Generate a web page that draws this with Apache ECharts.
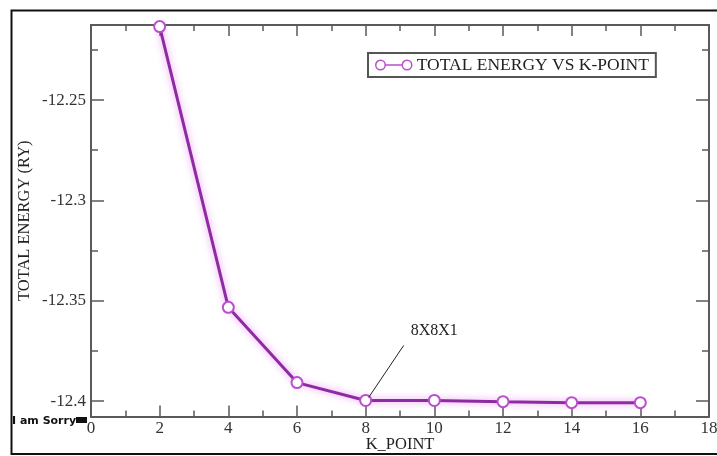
<!DOCTYPE html>
<html>
<head>
<meta charset="utf-8">
<script src="https://cdn.jsdelivr.net/npm/echarts@6/dist/echarts.min.js"></script>
<style>
  html, body { margin: 0; padding: 0; background: #fff; }
  #chart { width: 717px; height: 456px; }
</style>
</head>
<body>
<div id="chart"></div>
<script>
// k-point mesh size vs. converged total energy (Ry)
const kPoints = [2, 4, 6, 8, 10, 12, 14, 16];
const totalEnergy = [-12.2134, -12.3533, -12.3908, -12.3997, -12.3997, -12.4003, -12.4008, -12.4008];
const yMajorTicks = [-12.4, -12.35, -12.3, -12.25];
const yMinorTicks = [-12.375, -12.325, -12.275, -12.225];
const seriesName = 'TOTAL ENERGY VS K-POINT';
const noteText = '8X8X1';
const noteIndex = 3;

const serif = '"Liberation Serif", "DejaVu Serif", serif';
const axisColor = '#5a5a5a';
const lineColor = '#8e2ba2';
const markColor = '#b94fcc';
const yMin = -12.4077, yMax = -12.2126;

const chart = echarts.init(document.getElementById('chart'));

function yAxisDef(position, major, showLabel) {
  return {
    type: 'value', position: position, min: yMin, max: yMax,
    axisLine: { show: true, lineStyle: { color: axisColor, width: 2 } },
    axisTick: { show: true, inside: true, length: major ? 13 : 7,
      customValues: major ? yMajorTicks : yMinorTicks,
      lineStyle: { color: axisColor, width: 1.5 } },
    axisLabel: showLabel ? { show: true, customValues: yMajorTicks, margin: 5,
      fontFamily: serif, fontSize: 17, color: '#333',
      formatter: v => String(v) } : { show: false },
    splitLine: { show: false },
    name: showLabel ? 'TOTAL ENERGY (RY)' : '',
    nameLocation: 'middle', nameRotate: 90, nameGap: 58, nameMoveOverlap: false,
    nameTextStyle: { fontFamily: serif, fontSize: 16.5, color: '#222' }
  };
}

function xAxisDef(position, showLabel) {
  return {
    type: 'value', position: position, min: 0, max: 18, interval: 2,
    axisLine: { show: true, lineStyle: { color: axisColor, width: 2 } },
    axisTick: { show: true, inside: true, length: 11, lineStyle: { color: axisColor, width: 1.5 } },
    minorTick: { show: true, splitNumber: 2, length: 6, lineStyle: { color: axisColor, width: 1.5 } },
    axisLabel: showLabel ? { show: true, margin: 4, fontFamily: serif, fontSize: 17, color: '#333' } : { show: false },
    splitLine: { show: false }, minorSplitLine: { show: false },
    name: showLabel ? 'K_POINT' : '',
    nameLocation: 'middle', nameGap: 20, nameMoveOverlap: false,
    nameTextStyle: { fontFamily: serif, fontSize: 16.5, color: '#222' }
  };
}

chart.setOption({
  animation: false,
  backgroundColor: '#fff',
  grid: { left: 91, right: 8, top: 25, bottom: 39.5, outerBoundsMode: 'none', containLabel: false },
  xAxis: [xAxisDef('bottom', true), xAxisDef('top', false)],
  yAxis: [yAxisDef('left', true, true), yAxisDef('left', false, false),
          yAxisDef('right', true, false), yAxisDef('right', false, false)],
  legend: {
    show: true, left: 368, top: 53, orient: 'horizontal',
    padding: [3, 7, 3, 7],
    borderColor: '#555', borderWidth: 2, backgroundColor: '#fff',
    itemWidth: 36, itemHeight: 11, itemGap: 6,
    textStyle: { fontFamily: serif, fontSize: 17.5, color: '#222' },
    data: [{ name: seriesName, icon: 'path://M1,6 A5,5 0 1,1 11,6 A5,5 0 1,1 1,6 Z M11,6 L29,6 M29,6 A5,5 0 1,1 39,6 A5,5 0 1,1 29,6 Z',
      itemStyle: { color: 'rgba(0,0,0,0)', borderColor: markColor, borderWidth: 1.5 } }]
  },
  series: [{
    name: seriesName, type: 'line', xAxisIndex: 0, yAxisIndex: 0,
    data: kPoints.map((k, i) => [k, totalEnergy[i]]),
    clip: false,
    symbol: 'emptyCircle', symbolSize: 11,
    lineStyle: { color: lineColor, width: 3, shadowColor: 'rgba(230,120,240,0.85)', shadowBlur: 7 },
    itemStyle: { color: markColor, borderColor: markColor, borderWidth: 1.5 },
    emphasis: { disabled: true }
  }]
});

// annotation pointing at the chosen mesh, plus outer frame and stray caption
const p = chart.convertToPixel({ xAxisIndex: 0, yAxisIndex: 0 }, [kPoints[noteIndex], totalEnergy[noteIndex]]);
chart.setOption({
  graphic: [
    { type: 'rect', shape: { x: 11.5, y: 10.5, width: 710, height: 443.5 },
      style: { fill: 'none', stroke: '#111', lineWidth: 2 }, silent: true, z: 0 },
    { type: 'line', shape: { x1: p[0] + 3, y1: p[1] - 3, x2: p[0] + 38, y2: p[1] - 55 },
      style: { stroke: '#222', lineWidth: 1 }, z: 10 },
    { type: 'text', x: p[0] + 45, y: p[1] - 70,
      style: { text: noteText, font: '16px ' + serif, fill: '#222', textVerticalAlign: 'middle' }, z: 10 },
    { type: 'text', x: 12, y: 421,
      style: { text: 'I am Sorry', font: 'bold 11px "DejaVu Sans", sans-serif', fill: '#111', textVerticalAlign: 'middle' }, z: 10 },
    { type: 'rect', shape: { x: 76, y: 417, width: 11, height: 6 }, style: { fill: '#111' }, z: 10 }
  ]
});
</script>
</body>
</html>
